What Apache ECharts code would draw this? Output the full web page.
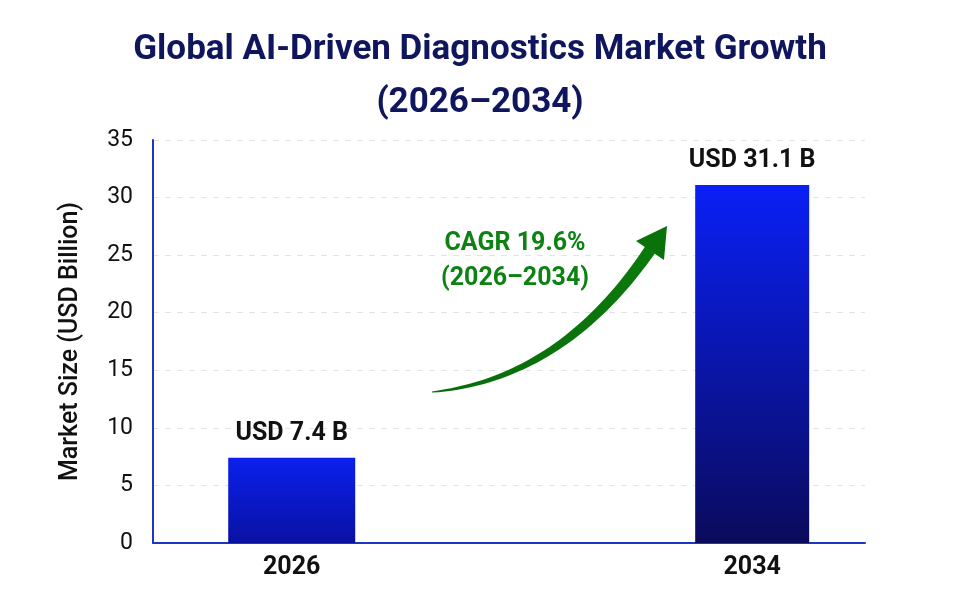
<!DOCTYPE html>
<html>
<head>
<meta charset="utf-8">
<script src="https://cdn.jsdelivr.net/npm/echarts@6/dist/echarts.min.js"></script>
<style>
html,body{margin:0;padding:0;background:#fff;}
#chart{width:960px;height:599px;}
</style>
</head>
<body>
<div id="chart"></div>
<script>
// ---- data ----
var years = [2026, 2034];
var marketSize = [7.4, 31.1];
var yTicks = [0, 5, 10, 15, 20, 25, 30, 35];
var titleLines = ['Global AI-Driven Diagnostics Market Growth', '(2026–2034)'];
var cagrLines = ['CAGR 19.6%', '(2026–2034)'];
var yAxisName = 'Market Size (USD Billion)';

var FONT = 'Roboto, "Noto Sans", sans-serif';
var xMin = 2023.59, xMax = 2035.96;

var chart = echarts.init(document.getElementById('chart'));

// tapered curved arrow (annotation)
function arrowGraphic() {
  var p0 = [432, 392], p1 = [562, 379], p2 = [650, 250];
  var n = 40, left = [], right = [];
  for (var i = 0; i <= n; i++) {
    var t = i / n;
    var x = (1-t)*(1-t)*p0[0] + 2*(1-t)*t*p1[0] + t*t*p2[0];
    var y = (1-t)*(1-t)*p0[1] + 2*(1-t)*t*p1[1] + t*t*p2[1];
    var dx = 2*(1-t)*(p1[0]-p0[0]) + 2*t*(p2[0]-p1[0]);
    var dy = 2*(1-t)*(p1[1]-p0[1]) + 2*t*(p2[1]-p1[1]);
    var len = Math.sqrt(dx*dx+dy*dy);
    var nx = -dy/len, ny = dx/len;
    var w = (0.6 + 5.4 * Math.pow(t, 0.8));
    left.push([x + nx*w, y + ny*w]);
    right.unshift([x - nx*w, y - ny*w]);
  }
  var body = left.concat(right);
  return [
    { type: 'polygon', z: 10, shape: { points: body }, style: { fill: new echarts.graphic.LinearGradient(0,1,1,0,[{offset:0,color:'#0b6a0b'},{offset:1,color:'#0a7a0c'}]) } },
    { type: 'polygon', z: 10, shape: { points: [[636, 241], [667, 226], [664, 260]] }, style: { fill: '#0a720b' } }
  ];
}

var option = {
  backgroundColor: '#ffffff',
  animation: false,
  title: {
    text: titleLines.join('\n'),
    left: 'center',
    top: 19,
    textStyle: { fontFamily: FONT, fontSize: 35, fontWeight: 'bold', color: '#10165e', lineHeight: 53 }
  },
  grid: { left: 153, right: 95, top: 140, bottom: 56, containLabel: false },
  xAxis: [
    {
      type: 'value', min: xMin, max: xMax,
      axisLine: { show: true, lineStyle: { color: '#1b38c4', width: 2 } },
      axisTick: { show: false },
      splitLine: { show: false },
      axisLabel: {
        customValues: years, formatter: function (v) { return String(Math.round(v)); },
        fontFamily: FONT, fontSize: 25, fontWeight: 'bold', color: '#111', margin: 12
      }
    },
    {
      type: 'value', min: xMin, max: xMax, show: false
    }
  ],
  yAxis: {
    type: 'value', min: 0, max: 35, interval: 5,
    name: yAxisName, nameLocation: 'middle', nameGap: 70, nameRotate: 90,
    nameTextStyle: { fontFamily: FONT, fontSize: 25, fontWeight: 500, color: '#111' },
    axisLine: { show: true, lineStyle: { color: '#1b38c4', width: 2 } },
    axisTick: { show: false },
    axisLabel: {
      fontFamily: FONT, fontSize: 23, color: '#111', margin: 20,
      formatter: function (v) { return yTicks.indexOf(v) >= 0 ? String(v) : ''; }
    },
    splitLine: { show: true, lineStyle: { color: '#e3e3e3', type: [6, 6], width: 1 } }
  },
  series: [
    {
      type: 'bar', xAxisIndex: 0, barWidth: 127,
      data: [[years[0], marketSize[0]]],
      itemStyle: { color: new echarts.graphic.LinearGradient(0,0,0,1,[{offset:0,color:'#0a20ee'},{offset:1,color:'#0a11a2'}]) },
      label: { show: true, position: 'top', distance: 12, formatter: function (p) { return 'USD ' + p.value[1] + ' B'; },
        fontFamily: FONT, fontSize: 25, fontWeight: 'bold', color: '#111' }
    },
    {
      type: 'bar', xAxisIndex: 1, barWidth: 114,
      data: [[years[1], marketSize[1]]],
      itemStyle: { color: new echarts.graphic.LinearGradient(0,0,0,1,[{offset:0,color:'#0a20f6'},{offset:1,color:'#0a0b5c'}]) },
      label: { show: true, position: 'top', distance: 12, formatter: function (p) { return 'USD ' + p.value[1] + ' B'; },
        fontFamily: FONT, fontSize: 25, fontWeight: 'bold', color: '#111' }
    }
  ],
  graphic: arrowGraphic().concat([
    {
      type: 'text', z: 11,
      style: { text: cagrLines.join('\n'), x: 515, y: 226, align: 'center', verticalAlign: 'top', fontFamily: FONT, fontSize: 25, fontWeight: 'bold', fill: '#0d8212', lineHeight: 35 }
    }
  ])
};
chart.setOption(option);
</script>
</body>
</html>
